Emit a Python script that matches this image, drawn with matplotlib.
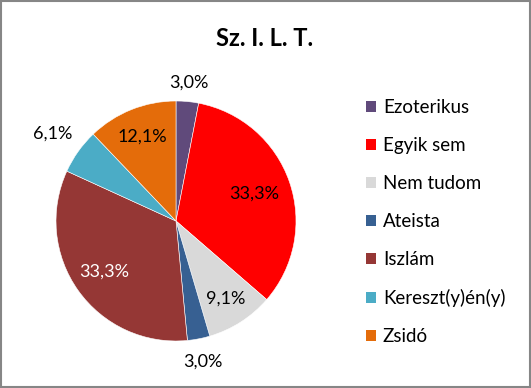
import numpy as np
import matplotlib.pyplot as plt
from matplotlib.patches import Patch, Rectangle

plt.rcParams['font.family'] = ['Lato', 'DejaVu Sans']

title = "Sz. I. L. T."
labels = ["Ezoterikus", "Egyik sem", "Nem tudom", "Ateista", "Iszlám",
          "Kereszt(y)én(y)", "Zsidó"]
counts = [1, 11, 3, 1, 11, 2, 4]
pct_labels = ["3,0%", "33,3%", "9,1%", "3,0%", "33,3%", "6,1%", "12,1%"]
colors = ["#604A7B", "#FF0000", "#D9D9D9", "#376092", "#953735",
          "#4BACC6", "#E46C0A"]
# label distance from centre (fraction of radius) and text colour
label_r = [1.16, 0.69, 0.77, 1.19, 0.73, 1.26, 0.76]
label_c = ["black", "black", "black", "black", "white", "black", "black"]

fig = plt.figure(figsize=(5.31, 3.88), dpi=100)
ax = fig.add_axes([56 / 531, 47 / 388, 240 / 531, 240 / 388])

wedges, _ = ax.pie(counts, colors=colors, startangle=90, counterclock=False,
                   radius=1, wedgeprops=dict(edgecolor="white", linewidth=0.4))
ax.set_xlim(-1, 1)
ax.set_ylim(-1, 1)
ax.set_aspect('equal')
ax.axis('off')

for w, txt, r, c in zip(wedges, pct_labels, label_r, label_c):
    ang = np.deg2rad((w.theta1 + w.theta2) / 2)
    ax.text(r * np.cos(ang), r * np.sin(ang), txt, ha='center', va='center',
            fontsize=13, color=c, clip_on=False)

fig.text(265 / 531, 1 - 38 / 388, title, ha='center', va='center',
         fontsize=17, fontweight='bold')

handles = [Patch(facecolor=col, edgecolor='none') for col in colors]
fig.legend(handles, labels, loc='upper left', bbox_to_anchor=(366 / 531, 1 - 99 / 388),
           frameon=False, fontsize=13.5, handlelength=0.55, handleheight=0.55,
           handletextpad=0.35, labelspacing=1.12, borderpad=0, borderaxespad=0)

fig.patches.append(Rectangle((0.002, 0.003), 0.996, 0.994, transform=fig.transFigure,
                             fill=False, edgecolor="#868686", linewidth=1.5))

plt.savefig('out.png', dpi=100, facecolor='white')
